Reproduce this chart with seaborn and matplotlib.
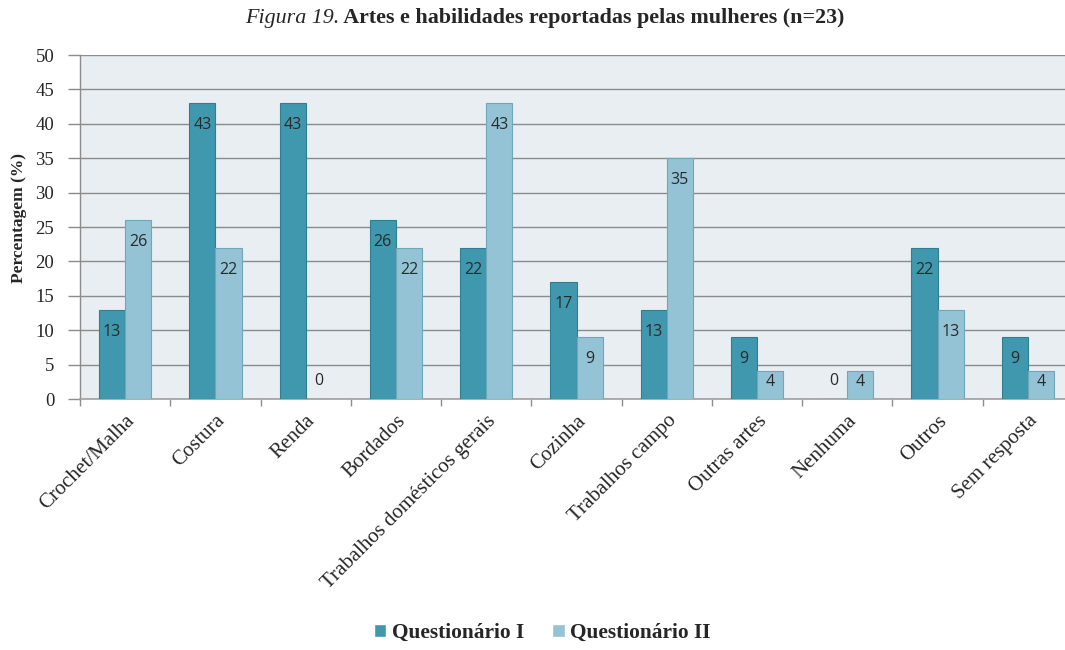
import matplotlib
matplotlib.use("Agg")
import matplotlib.pyplot as plt
import seaborn as sns
import pandas as pd
import numpy as np

categories = ["Crochet/Malha", "Costura", "Renda", "Bordados",
              "Trabalhos domésticos gerais", "Cozinha", "Trabalhos campo",
              "Outras artes", "Nenhuma", "Outros", "Sem resposta"]
questionario_1 = [13, 43, 43, 26, 22, 17, 13, 9, 0, 22, 9]
questionario_2 = [26, 22, 0, 22, 43, 9, 35, 4, 4, 13, 4]
series_names = ["Questionário I", "Questionário II"]
y_ticks = [0, 5, 10, 15, 20, 25, 30, 35, 40, 45, 50]

df = pd.DataFrame({
    "categoria": categories * 2,
    "valor": questionario_1 + questionario_2,
    "serie": [series_names[0]] * len(categories) + [series_names[1]] * len(categories),
})

sns.set_theme(style="white")
plt.rcParams["font.family"] = ["Liberation Serif", "DejaVu Serif"]

dark = "#4098AE"
light = "#93C3D5"
edge_dark = "#2F7E92"
edge_light = "#6FA6BA"

fig = plt.figure(figsize=(10.65, 6.5), dpi=100)
W, H = 1065, 650
left_px, right_px = 80, 1073
top_px, bottom_px = 55, 399
ax = fig.add_axes([left_px / W, 1 - bottom_px / H,
                   (right_px - left_px) / W, (bottom_px - top_px) / H])
ax.set_facecolor("#E8EEF2")

sns.barplot(data=df, x="categoria", y="valor", hue="serie",
            palette=[dark, light], width=0.58, ax=ax, legend=True,
            saturation=1, zorder=3)

for container, ec in zip(ax.containers, [edge_dark, edge_light]):
    for bar in container:
        bar.set_edgecolor(ec)
        bar.set_linewidth(0.8)

# value labels placed just inside the top of each bar
px_per_unit = (bottom_px - top_px) / 50.0
for container in ax.containers:
    for bar in container:
        v = bar.get_height()
        xc = bar.get_x() + bar.get_width() / 2
        h_px = v * px_per_unit
        if v == 0:
            off_px = 18
        elif h_px > 44:
            off_px = -22
        else:
            off_px = -h_px / 2 + 3
        ax.annotate(f"{int(round(v))}", (xc, v), xytext=(0, off_px * 0.72),
                    textcoords="offset points", ha="center", va="center",
                    fontsize=11.5, color="#2A2A2A", family="Open Sans",
                    zorder=5)

ax.set_ylim(0, 50)
ax.set_xlim(-0.5, len(categories) - 0.5)
ax.set_yticks(y_ticks)
ax.set_yticklabels([str(t) for t in y_ticks], fontsize=13.5)
ax.yaxis.grid(True, color="#8C8C8C", linewidth=1.0, zorder=0)
ax.set_axisbelow(True)

ax.set_xticks(range(len(categories)))
ax.set_xticklabels(categories, rotation=45, ha="right",
                   rotation_mode="anchor", fontsize=15)
ax.tick_params(axis="x", which="major", length=0, pad=9)
ax.set_xticks(np.arange(-0.5, len(categories), 1.0), minor=True)
ax.tick_params(axis="x", which="minor", length=5, color="#8C8C8C", width=1,
               direction="out", bottom=True)
ax.tick_params(axis="y", length=8.5, color="#8C8C8C", width=1,
               direction="out", left=True, pad=10)

for s in ["top", "right"]:
    ax.spines[s].set_visible(False)
ax.spines["left"].set_color("#8C8C8C")
ax.spines["bottom"].set_color("#A0A0A0")
ax.spines["left"].set_linewidth(1)
ax.spines["bottom"].set_linewidth(1.2)

ax.set_xlabel("")
ax.set_ylabel("")
fig.text(19 / W, 1 - 218 / H, "Percentagem (%)", rotation=90, ha="center",
         va="center", fontsize=12.5, fontweight="bold")

handles, labels = ax.get_legend_handles_labels()
ax.get_legend().remove()
fig.legend(handles, labels, loc="center", bbox_to_anchor=(542 / W, 1 - 633 / H),
           ncol=2, frameon=False, handlelength=0.6, handleheight=0.6,
           handletextpad=0.25, columnspacing=1.3,
           prop={"family": "Liberation Serif", "weight": "bold", "size": 15.4})

# title: italic figure number followed by bold caption, centred as one line
renderer = fig.canvas.get_renderer()
t1 = fig.text(0, 1 - 18 / H, "Figura 19.", ha="left", va="center",
              fontsize=15.8, style="italic")
t2 = fig.text(0, 1 - 18 / H, " Artes e habilidades reportadas pelas mulheres (n=23)",
              ha="left", va="center", fontsize=15.8, fontweight="bold")
w1 = t1.get_window_extent(renderer).width
w2 = t2.get_window_extent(renderer).width
x0 = 545 - (w1 + w2) / 2
t1.set_x(x0 / W)
t2.set_x((x0 + w1) / W)

fig.savefig("out.png", dpi=100)
